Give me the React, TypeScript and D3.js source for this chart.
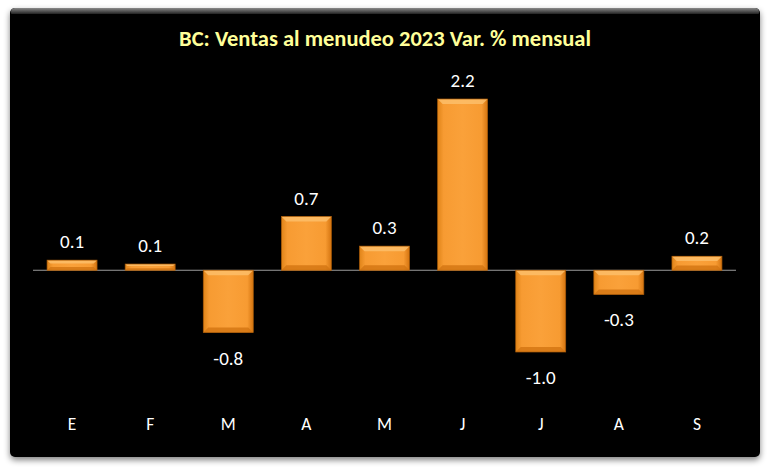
import React from "react";
import * as d3 from "d3";

const months = ["E", "F", "M", "A", "M", "J", "J", "A", "S"];
const values = [0.13, 0.08, -0.8, 0.69, 0.31, 2.2, -1.05, -0.31, 0.18];
const labels = ["0.1", "0.1", "-0.8", "0.7", "0.3", "2.2", "-1.0", "-0.3", "0.2"];
const title = "BC: Ventas al menudeo 2023 Var. % mensual";

const W = 770;
const H = 470;
const font = "Carlito, Calibri, Lato, 'Open Sans', sans-serif";

export default function App() {
  const keys = months.map((m, i) => `${i}`);
  const x = d3.scaleBand<string>().domain(keys).range([33, 736]).paddingInner(0.36).paddingOuter(0.18);
  const y = d3.scaleLinear().domain([-1.05, 2.2]).range([352, 99]);
  const bw = x.bandwidth();
  const y0 = y(0);

  return (
    <svg width={W} height={H} style={{ position: "absolute", left: 0, top: 0 }}>
      <defs>
        <linearGradient id="barH" x1="0" x2="1" y1="0" y2="0">
          <stop offset="0" stopColor="#E08418" />
          <stop offset="0.12" stopColor="#F79B32" />
          <stop offset="0.5" stopColor="#FAA13A" />
          <stop offset="0.88" stopColor="#F79B32" />
          <stop offset="1" stopColor="#D47410" />
        </linearGradient>
        <linearGradient id="panelTop" x1="0" x2="0" y1="0" y2="1">
          <stop offset="0" stopColor="#8a8a8a" />
          <stop offset="1" stopColor="#000" />
        </linearGradient>
        <filter id="shadow" x="-5%" y="-5%" width="110%" height="115%">
          <feGaussianBlur in="SourceAlpha" stdDeviation="3" />
          <feOffset dx="0" dy="3" result="b" />
          <feComponentTransfer>
            <feFuncA type="linear" slope="0.5" />
          </feComponentTransfer>
          <feMerge>
            <feMergeNode />
            <feMergeNode in="SourceGraphic" />
          </feMerge>
        </filter>
      </defs>
      <rect x={0} y={0} width={W} height={H} fill="#fff" />
      <rect x={10} y={8} width={750} height={449} rx={5} fill="#000" filter="url(#shadow)" />
      <rect x={11} y={8} width={748} height={8} rx={4} fill="url(#panelTop)" />
      <rect x={10} y={14} width={750} height={10} fill="#000" />
      <text x={385} y={46} textAnchor="middle" fill="#FFFF99" fontFamily={font} fontWeight="bold" fontSize={22.5}>
        {title}
      </text>
      <line x1={33} x2={736} y1={y0} y2={y0} stroke="#9a9a9a" strokeWidth={1} />
      {values.map((v, i) => {
        const bx = x(keys[i])!;
        const top = Math.min(y(v), y0);
        const h = Math.abs(y(v) - y0);
        const bev = Math.min(5, h / 3);
        const r = bx + bw;
        const b = top + h;
        return (
          <g key={i}>
            <rect x={bx} y={top} width={bw} height={h} fill="url(#barH)" />
            <polygon
              points={`${bx},${top} ${r},${top} ${r - bev},${top + bev} ${bx + bev},${top + bev}`}
              fill="#FDBE6A"
              opacity={0.85}
            />
            <polygon
              points={`${bx},${b} ${r},${b} ${r - bev},${b - bev} ${bx + bev},${b - bev}`}
              fill="#D27412"
              opacity={0.8}
            />
            <rect x={bx} y={top} width={bw} height={h} fill="none" stroke="#A85A08" strokeWidth={0.7} />
            <text
              x={bx + bw / 2}
              y={v >= 0 ? top - 12 : b + 32}
              textAnchor="middle"
              fill="#fff"
              fontFamily={font}
              fontSize={19}
            >
              {labels[i]}
            </text>
          </g>
        );
      })}
      {months.map((m, i) => (
        <text
          key={i}
          x={x(keys[i])! + bw / 2}
          y={430}
          textAnchor="middle"
          fill="#fff"
          fontFamily={font}
          fontSize={17.5}
        >
          {m}
        </text>
      ))}
    </svg>
  );
}
